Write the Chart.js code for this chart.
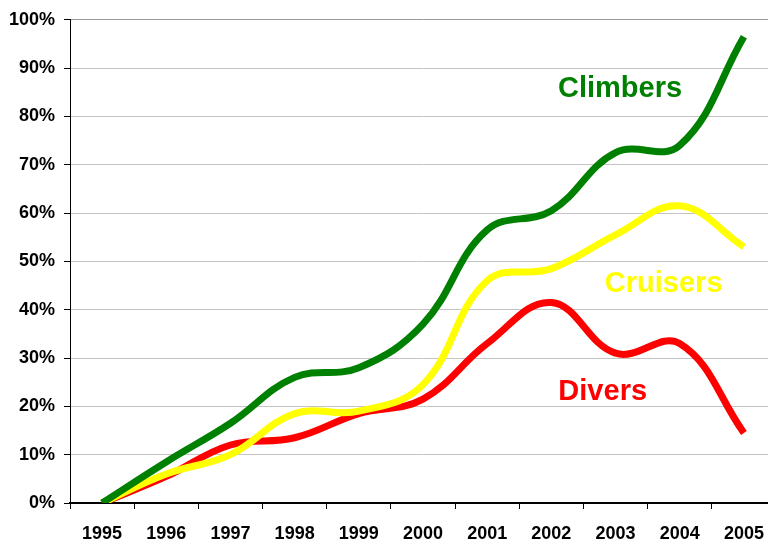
<!DOCTYPE html>
<html>
<head>
<meta charset="utf-8">
<script src="https://cdn.jsdelivr.net/npm/chart.js@4"></script>
<style>
  html, body { margin: 0; padding: 0; background: #fff; overflow: hidden; }
</style>
</head>
<body>
<canvas id="chart" width="790" height="543"></canvas>
<script>
let years = ["1995", "1996", "1997", "1998", "1999", "2000", "2001", "2002", "2003", "2004", "2005"];
let climbers = [0, 8.5, 16.5, 26, 28, 37, 56.5, 60.5, 72.5, 74, 96.5];
let cruisers = [0, 6, 10, 18.5, 19, 24.5, 46, 48.5, 55.5, 61.5, 53];
let divers = [0, 5.5, 12, 13.5, 18.5, 21.5, 33, 41.5, 31, 33, 14.5];
let yTicks = [0, 10, 20, 30, 40, 50, 60, 70, 80, 90, 100];

// series names written inside the plot, placed in data units (category index, %)
let seriesLabels = [
  { text: "Climbers", color: "#008000", x: 8.07, y: 85.6 },
  { text: "Cruisers", color: "#FFFF00", x: 8.75, y: 45.4 },
  { text: "Divers", color: "#FF0000", x: 7.8, y: 22.9 },
];

const labelPlugin = {
  id: "seriesLabels",
  afterDatasetsDraw(chart) {
    const ctx = chart.ctx;
    const xs = chart.scales.x;
    const ys = chart.scales.y;
    ctx.save();
    ctx.font = "bold 29px 'Liberation Sans', Arial, sans-serif";
    ctx.textAlign = "center";
    ctx.textBaseline = "middle";
    seriesLabels.forEach((l) => {
      ctx.fillStyle = l.color;
      ctx.fillText(l.text, xs.getPixelForValue(l.x), ys.getPixelForValue(l.y));
    });
    ctx.restore();
  },
};

function lineSet(label, data, color) {
  return {
    label: label,
    data: data,
    borderColor: color,
    backgroundColor: color,
    borderWidth: 7,
    tension: 0.4,
    pointRadius: 0,
    borderCapStyle: "butt",
    fill: false,
  };
}

new Chart(document.getElementById("chart"), {
  type: "line",
  data: {
    labels: years,
    datasets: [
      lineSet("Climbers", climbers, "#008000"),
      lineSet("Cruisers", cruisers, "#FFFF00"),
      lineSet("Divers", divers, "#FF0000"),
    ],
  },
  options: {
    responsive: false,
    animation: false,
    layout: { padding: { top: 16, right: 14, left: 0, bottom: 0 } },
    plugins: {
      legend: { display: false },
      tooltip: { enabled: false },
    },
    scales: {
      x: {
        offset: true,
        grid: {
          offset: true,
          drawOnChartArea: false,
          tickLength: 6,
          color: "#000",
        },
        border: { color: "#000", width: 2 },
        ticks: {
          color: "#000",
          font: { family: "'Liberation Sans', Arial, sans-serif", size: 18, weight: "bold" },
          padding: 14,
          maxRotation: 0,
          autoSkip: false,
        },
        afterFit: (s) => { s.height = 40; },
      },
      y: {
        min: 0,
        max: 100,
        afterBuildTicks: (s) => { s.ticks = yTicks.map((v) => ({ value: v })); },
        grid: {
          color: (c) => (c.tick && c.tick.value === 100 ? "#9a9a9a" : "#c4c4c4"),
          lineWidth: 1,
          tickLength: 6,
          tickColor: "#000",
        },
        border: { color: "#000", width: 1 },
        ticks: {
          color: "#000",
          font: { family: "'Liberation Sans', Arial, sans-serif", size: 18, weight: "bold" },
          padding: 9,
          callback: (v) => v + "%",
        },
        afterFit: (s) => { s.width = 70; },
      },
    },
  },
  plugins: [labelPlugin],
});
</script>
</body>
</html>
